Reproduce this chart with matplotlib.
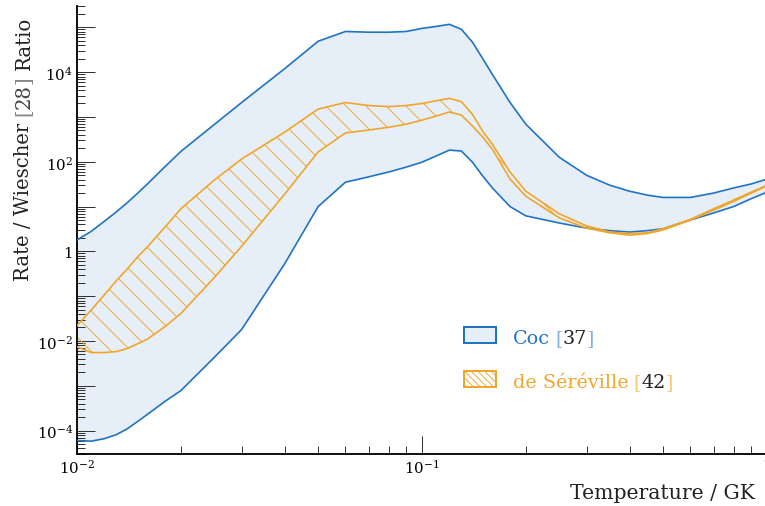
import matplotlib

matplotlib.use("Agg")
import matplotlib.pyplot as plt
import matplotlib.ticker as mticker
from matplotlib.patches import Rectangle
import numpy as np

# temperature grid (GK)
temperature = [0.01, 0.011, 0.012, 0.013, 0.014, 0.015, 0.016, 0.018, 0.02, 0.025,
               0.03, 0.04, 0.05, 0.06, 0.07, 0.08, 0.09, 0.1, 0.11, 0.12, 0.13,
               0.14, 0.15, 0.16, 0.18, 0.2, 0.25, 0.3, 0.35, 0.4, 0.45, 0.5, 0.6,
               0.7, 0.8, 0.9, 1.0]

# Coc [37] band (ratio to Wiescher)
coc_high = [1.8, 2.8, 4.7, 7.6, 12.3, 20, 32, 78, 170, 680,
            2100, 12000, 49000, 81000, 78000, 78000, 81000, 95000, 105000, 117000, 91000,
            47000, 20000, 8900, 2100, 690, 126, 50, 30, 22, 18, 16, 16,
            20, 26, 32, 41]
coc_low = [6.0e-5, 5.8e-5, 6.6e-5, 8.1e-5, 1.1e-4, 1.6e-4, 2.3e-4, 4.5e-4, 7.8e-4, 4.3e-3,
           0.018, 0.53, 10, 35, 46, 59, 76, 98, 135, 182, 174,
           98, 48, 26, 10, 6.2, 4.3, 3.3, 2.9, 2.7, 2.9, 3.2, 5.0,
           7.2, 10, 15, 21]

# de Sereville [42] band
ser_high = [0.022, 0.049, 0.107, 0.22, 0.41, 0.76, 1.26, 3.5, 8.9, 39,
            115, 460, 1500, 2100, 1800, 1700, 1800, 2000, 2300, 2600, 2200,
            1150, 480, 245, 59, 22, 6.9, 3.7, 2.7, 2.5, 2.6, 3.2, 5.2,
            8.9, 14, 21, 30]
ser_low = [0.0074, 0.0055, 0.0055, 0.0058, 0.0068, 0.0087, 0.011, 0.021, 0.041, 0.26,
           1.3, 19, 166, 440, 510, 590, 690, 850, 1050, 1290, 1100,
           630, 355, 190, 41, 17, 5.6, 3.3, 2.6, 2.3, 2.5, 3.0, 5.0,
           8.3, 13, 20, 29]

BLUE = "#1f74c4"
BLUE_FILL = "#e6eef8"
BLUE_LIGHT = "#80b0e0"
ORANGE = "#f0a62c"
ORANGE_LIGHT = "#f6c878"
DARK = "#222222"

DPI = 60  # hatch spacing follows dpi; 60 gives ~10 px like the original
plt.rcParams.update({
    "font.family": ["DejaVu Serif"],
    "mathtext.fontset": "dejavuserif",
    "hatch.linewidth": 1.1,
    "hatch.color": ORANGE,
})

fig = plt.figure(figsize=(765 / DPI, 507 / DPI), dpi=DPI)
ax = fig.add_axes([77 / 765, 52 / 507, 690 / 765, 448 / 507])

T = np.array(temperature)
ax.fill_between(T, coc_low, coc_high, facecolor=BLUE_FILL, edgecolor="none", zorder=1)
ax.fill_between(T, ser_low, ser_high, facecolor="none", edgecolor=ORANGE,
                linewidth=0, hatch="\\", zorder=2)
ax.plot(T, coc_high, color=BLUE, lw=2.0, zorder=3)
ax.plot(T, coc_low, color=BLUE, lw=2.0, zorder=3)
ax.plot(T, ser_high, color=ORANGE, lw=2.0, zorder=4)
ax.plot(T, ser_low, color=ORANGE, lw=2.0, zorder=4)

ax.set_xscale("log")
ax.set_yscale("log")
ax.set_xlim(0.01, 1.0)
ax.set_ylim(3e-5, 3e5)

for s in ("top", "right"):
    ax.spines[s].set_visible(False)
for s in ("left", "bottom"):
    ax.spines[s].set_linewidth(2.2)


def fmt(v, pos):
    e = int(round(np.log10(v)))
    if e == 0:
        return "1"
    return rf"$10^{{{e}}}$"


def fmt_even(v, pos):
    e = int(round(np.log10(v)))
    if e % 2:
        return ""
    return fmt(v, pos)


ax.xaxis.set_major_locator(mticker.LogLocator(base=10, numticks=20))
ax.xaxis.set_minor_locator(mticker.LogLocator(base=10, subs=np.arange(2, 10), numticks=20))
ax.yaxis.set_major_locator(mticker.LogLocator(base=10, numticks=20))
ax.yaxis.set_minor_locator(mticker.LogLocator(base=10, subs=np.arange(2, 10), numticks=20))
ax.xaxis.set_major_formatter(mticker.FuncFormatter(fmt))
ax.yaxis.set_major_formatter(mticker.FuncFormatter(fmt_even))
ax.xaxis.set_minor_formatter(mticker.NullFormatter())
ax.yaxis.set_minor_formatter(mticker.NullFormatter())
ax.tick_params(which="both", direction="in", color="#333333", labelsize=18, width=1.2)
ax.tick_params(which="major", length=21.5, pad=5)
ax.tick_params(which="minor", length=9.6)

# axis labels
fig.text(755 / 765, 8 / 507, "Temperature / GK", ha="right", va="baseline",
         fontsize=24.5, color=DARK)

t = fig.text(24 / 765, (507 - 281) / 507, "Rate / Wiescher", rotation=90,
             ha="center", va="bottom", fontsize=23.5, color=DARK)
for s, c, gap in (("[", "#888888", 8), ("28", "#444444", 0), ("]", "#888888", 0),
                  ("Ratio", DARK, 7)):
    t = ax.annotate(s, xy=(0.5, 1), xycoords=t, xytext=(0, gap),
                    textcoords="offset points", rotation=90, ha="center",
                    va="bottom", fontsize=23.5, color=c, annotation_clip=False)

# legend drawn by hand
legend = [
    ("Coc", "37", BLUE, BLUE_LIGHT, BLUE_FILL, None, 344),
    ("de Séréville", "42", ORANGE, ORANGE_LIGHT, "none", "\\\\\\", 388),
]
for name, ref, col, light, face, hatch, ybase in legend:
    fig.patches.append(Rectangle((464 / 765, (507 - ybase) / 507), 32 / 765, 16 / 507,
                                 transform=fig.transFigure, facecolor=face,
                                 edgecolor=col, lw=2.4, hatch=hatch))
    t = fig.text(513 / 765, (507 - ybase) / 507, name, ha="left", va="baseline",
                 fontsize=23, color=col)
    for s, c, gap in (("[", light, 6), (ref, DARK, 0), ("]", light, 0)):
        t = ax.annotate(s, xy=(1, 0), xycoords=t, xytext=(gap, 0),
                        textcoords="offset points", ha="left", va="bottom",
                        fontsize=23, color=c, annotation_clip=False)

fig.savefig("out.png", dpi=DPI)
